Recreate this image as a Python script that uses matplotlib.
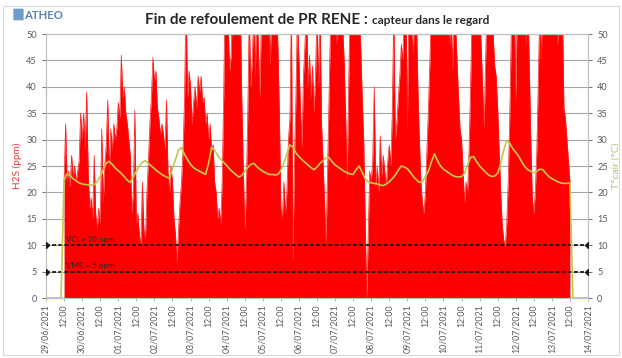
import matplotlib
matplotlib.use("Agg")
import matplotlib.pyplot as plt
from matplotlib.patches import Rectangle, FancyBboxPatch
import pandas as pd

plt.rcParams["font.family"] = ["Lato", "DejaVu Sans"]

# H2S concentration (ppm), hourly readings from 29/06/2021 12:00
h2s_start = "2021-06-29 12:00"
h2s_ppm = [
    # 29/06 12:00-23:00
    22, 33, 22, 24, 21, 27, 23, 25, 22, 24, 26, 35,
    # 30/06
    30, 35, 28, 39, 24, 17, 19, 15, 27, 16, 13, 17, 14, 32, 18, 25, 29, 37.5, 24, 32, 28, 33, 30, 32,
    # 01/07
    37, 34, 46, 38, 40, 35, 33, 30, 27, 16, 20, 35.6, 14, 16, 12, 10, 22, 13, 11, 20, 26, 33, 38, 45.5,
    # 02/07
    41, 43, 36, 34, 31, 33, 31, 28, 37.5, 24, 20, 25, 22, 15, 12, 6.6, 13, 18, 22, 28, 37.5, 58, 38, 43,
    # 03/07
    40, 33, 37, 40, 36, 42, 39, 42, 37, 38, 33, 35, 30, 33, 28, 29, 22, 20, 15, 17, 14, 22, 38, 60,
    # 04/07
    60, 52, 43, 46, 58, 62, 55, 60, 52, 57, 38, 25, 13, 20, 35, 54, 40, 45, 55, 42, 58, 48, 38, 52,
    # 05/07
    58, 62, 50, 65, 56, 44, 60, 52, 63, 55, 48, 35, 17, 15, 22, 16, 20, 30, 34, 55, 7, 26, 38, 55,
    # 06/07
    45, 36, 28.6, 42, 48, 58, 40, 46, 38, 44, 35, 42, 55, 40, 56, 33, 26, 18, 10.4, 24, 38, 52, 60, 55,
    # 07/07
    62, 48, 58, 64, 55, 52, 45, 35, 22, 40, 56, 60, 52, 65, 58, 62, 54, 48, 38, 30, 15, 0, 12, 24,
    # 08/07
    22, 26, 40, 21, 25, 20, 30.7, 23, 27, 24, 21, 26, 29, 25, 35, 55, 30, 33, 38, 42, 48, 45, 56, 60,
    # 09/07
    32, 58, 62, 50, 46, 60, 54, 40, 30, 22, 18, 16, 20, 28, 36, 45, 56, 62, 52, 65, 58, 60, 55, 63,
    # 10/07
    58, 62, 54, 60, 48, 55, 43, 58, 52, 45, 38, 32, 30, 24, 18, 22, 20, 28, 40, 55, 65, 58, 50, 62,
    # 11/07
    56, 48, 40, 32, 45, 58, 62, 54, 60, 50, 44, 42, 36, 28, 20, 14, 11, 9.7, 14, 22, 34, 50, 62, 58,
    # 12/07
    37.5, 55, 64, 58, 52, 60, 55, 48, 58, 44, 30, 19, 16, 20, 28, 42, 55, 45, 62, 58, 65, 52, 60, 55,
    # 13/07 00:00-12:00
    58, 50, 62, 56, 48, 60, 52, 55, 36, 34, 30, 26, 22,
]

# Air temperature in the manhole (°C), every 2 h from 29/06/2021 00:00 to 14/07/2021 00:00
temp_start = "2021-06-29 00:00"
temp_c = [
    0, 0, 0, 0, 0, 0,
    22.3, 23.5, 23.2, 22.6, 22.2, 21.8, 21.6, 21.5, 21.4, 21.4, 21.5, 22.0,
    23.0, 24.3, 25.5, 25.9, 25.3, 24.6, 24.1, 23.6, 23.0, 22.3, 21.9, 23.0,
    24.0, 25.0, 25.7, 26.0, 25.5, 25.0, 24.5, 24.0, 23.6, 23.2, 22.9, 22.7,
    24.5, 26.2, 28.0, 28.5, 27.2, 26.2, 25.3, 24.7, 24.3, 24.0, 23.7, 23.4,
    25.5, 28.5, 28.0, 27.0, 26.3, 25.7, 25.1, 24.4, 23.9, 23.4, 22.9, 23.2,
    24.0, 24.7, 25.3, 25.5, 24.9, 24.4, 24.0, 23.7, 23.4, 23.4, 23.3, 23.4,
    24.2, 25.5, 27.3, 29.0, 28.6, 27.5, 26.8, 26.2, 25.7, 25.2, 24.7, 24.3,
    24.8, 25.5, 26.0, 26.5, 26.6, 25.8, 25.2, 24.8, 24.4, 24.0, 23.7, 23.5,
    23.4, 24.3, 25.0, 23.8, 22.6, 22.0, 21.8, 21.7, 21.6, 21.4, 21.3, 21.6,
    22.0, 22.6, 23.3, 24.2, 25.0, 24.8, 24.5, 23.8, 23.0, 22.4, 21.9, 22.0,
    23.0, 24.0, 25.8, 27.3, 26.0, 25.0, 24.4, 24.0, 23.6, 23.2, 23.0, 22.9,
    23.0, 23.6, 25.2, 26.6, 26.8, 25.8, 25.0, 24.4, 23.8, 23.3, 23.0, 23.1,
    23.6, 25.5, 28.0, 29.8, 29.3, 28.3, 27.6, 26.8, 25.8, 24.9, 24.3, 24.0,
    23.7, 24.0, 24.4, 24.3, 23.6, 23.0, 22.6, 22.3, 22.0, 21.8, 21.7, 21.7,
    21.8,
    0, 0, 0, 0, 0, 0,
]

threshold_values = [10, 5]
threshold_labels = ["VCI = 10 ppm", "VME = 5 ppm"]

axis_start = pd.Timestamp("2021-06-29 00:00")
axis_end = pd.Timestamp("2021-07-14 00:00")
y_ticks = list(range(0, 51, 5))

h2s_time = pd.date_range(h2s_start, periods=len(h2s_ppm), freq="h")
temp_time = pd.date_range(temp_start, periods=len(temp_c), freq="2h")
x_ticks = pd.date_range(axis_start, axis_end, freq="12h")
x_labels = [t.strftime("%d/%m/%Y") if t.hour == 0 else t.strftime("%H:%M") for t in x_ticks]

W, H = 622, 358
fig = plt.figure(figsize=(W / 100, H / 100), dpi=100)
fig.patch.set_facecolor("white")

# chart border
fig.add_artist(Rectangle((3 / W, 3 / H), (W - 6) / W, (H - 9) / H, transform=fig.transFigure,
                         fill=False, edgecolor="#d9d9d9", lw=0.8))

left, right, top, bottom = 46, 588, 34, 298
ax = fig.add_axes([left / W, (H - bottom) / H, (right - left) / W, (bottom - top) / H])
ax2 = ax.twinx()

tick_col = "#595959"
grid_col = "#a6a6a6"

# H2S area
ax.fill_between(h2s_time, h2s_ppm, 0, color="#ff0000", lw=0, zorder=2)
ax.plot(h2s_time, h2s_ppm, color="#ff1a1a", lw=0.5, zorder=2)
ax.set_xlim(axis_start, axis_end)
ax.set_ylim(0, 50)
ax.set_yticks(y_ticks)
ax.set_axisbelow(True)
ax.yaxis.grid(True, color=grid_col, lw=0.8)
ax.set_xticks(x_ticks)
ax.set_xticklabels(x_labels, rotation=90, fontsize=6.3, color=tick_col)
ax.tick_params(axis="y", labelsize=6.6, colors=tick_col, length=3, width=0.6)
ax.tick_params(axis="x", length=2.5, width=0.6, colors=grid_col, labelcolor=tick_col, pad=2)
ax.set_ylabel("H2S (ppm)", color="#e8383d", fontsize=7.2, labelpad=3)

# thresholds and temperature on the right scale
for val, lab in zip(threshold_values, threshold_labels):
    ax2.plot([axis_start, axis_end], [val, val], color="#1a1a1a", lw=1.3,
             ls=(0, (2.2, 1.2)), marker="D", markersize=3, markevery=[0, 1], zorder=3)
    ax2.text(pd.Timestamp("2021-06-29 13:00"), val + 0.4, lab, fontsize=5.8,
             color="#262626", va="bottom", ha="left", zorder=4)

ax2.plot(temp_time, temp_c, color="#c2c84a", lw=1.2, zorder=5)
ax2.set_ylim(0, 50)
ax2.set_yticks(y_ticks)
ax2.tick_params(axis="y", labelsize=6.6, colors=tick_col, length=3, width=0.6)
ax2.set_ylabel("T°cair (°C)", color="#a9c870", fontsize=7.5, labelpad=3)

for a in (ax, ax2):
    for s in a.spines.values():
        s.set_color("#bfbfbf")
        s.set_linewidth(0.8)

# title
y_title = 1 - 24 / H
t1 = fig.text(145 / W, y_title, "Fin de refoulement de PR RENE :", fontsize=11,
              fontweight="bold", color="#262626", va="baseline", ha="left")
fig.canvas.draw()
bb = t1.get_window_extent()
fig.text((bb.x1 + 4) / W, y_title, "capteur dans le regard", fontsize=8.6,
         fontweight="bold", color="#262626", va="baseline", ha="left")

# logo
fig.add_artist(FancyBboxPatch((14 / W, 1 - 20 / H), 9 / W, 11 / H, transform=fig.transFigure,
                              boxstyle="round,pad=0.001", facecolor="#6d9ccc", edgecolor="none"))
fig.text(24 / W, 1 - 19 / H, "ATHEO", fontsize=8.2, color="#5b84b1", fontweight="bold",
         va="baseline", ha="left")

fig.savefig("out.png", dpi=100)
